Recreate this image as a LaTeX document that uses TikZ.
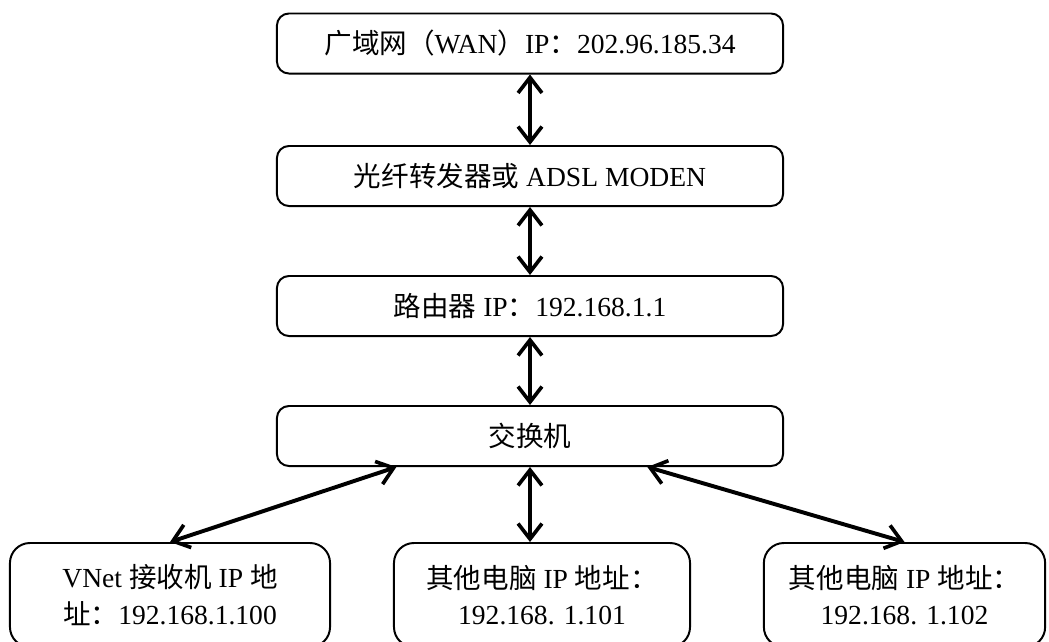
\documentclass[tikz,border=0pt]{standalone}
\usepackage{fontspec}
\setmainfont{Liberation Serif}
\newfontfamily\cjk{Noto Sans CJK SC}
\usetikzlibrary{arrows.meta, calc}
\tikzstyle{unit}=[rounded corners=0.3cm, draw, line width=1.4pt, minimum width=12.65cm, minimum height=1.5cm, font=\fontsize{19.6}{26}\selectfont, inner sep=0pt]
\tikzstyle{host}=[unit, rounded corners=0.5cm, minimum height=2.6cm, align=center]
\tikzstyle{link}=[line width=2.8pt, {Straight Barb[length=11pt, width=17pt, line width=2.6pt]}-{Straight Barb[length=11pt, width=17pt, line width=2.6pt]}]

\begin{document}
\begin{tikzpicture}[x=0.025cm, y=-0.025cm]
				\clip (0,0) rectangle (1049,641);

				\node[unit] (wan) at (530,43.5) {{\cjk 广域网（}WAN{\cjk ）}IP{\cjk ：}202.96.185.34};
				\node[unit] (modem) at (530,176) {{\cjk 光纤转发器或} ADSL MODEN};
				\node[unit] (router) at (530,306) {{\cjk 路由器} IP{\cjk ：}192.168.1.1};
				\node[unit] (switch) at (530,436) {{\cjk 交换机}};

				\node[host, minimum width=8cm] (pcl) at (170,595) {VNet {\cjk 接收机} IP {\cjk 地}\\{\cjk 址：}192.168.1.100};
				\node[host, minimum width=7.4cm] (pcm) at (542,595) {{\cjk 其他电脑} IP {\cjk 地址：}\\192.168. 1.101};
				\node[host, minimum width=7.03cm] (pcr) at (904.5,595) {{\cjk 其他电脑} IP {\cjk 地址：}\\192.168. 1.102};

				\draw[link] (wan) -- (modem);
				\draw[link] (modem) -- (router);
				\draw[link] (router) -- (switch);
				\draw[link] ($(switch.south)!0.526!(switch.south west)$) -- (pcl.north);
				\draw[link] (switch.south) -- (switch.south |- pcm.north);
				\draw[link] ($(switch.south)!0.462!(switch.south east)$) -- (pcr.north);
			\end{tikzpicture}
\end{document}
